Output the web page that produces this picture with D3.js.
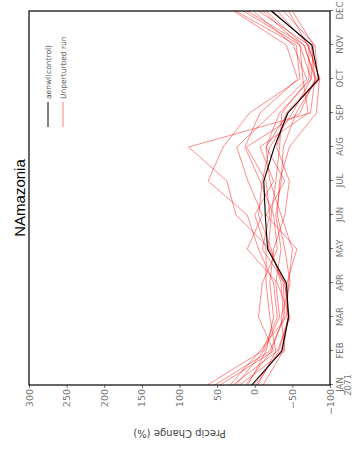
<!DOCTYPE html>
<html>
<head>
<meta charset="utf-8">
<script src="https://cdn.jsdelivr.net/npm/d3@7"></script>
<style>
  body { margin: 0; background: #fff; }
  svg { display: block; }
</style>
</head>
<body>
<script>
/*
** Data
*/
var months = ["JAN", "FEB", "MAR", "APR", "MAY", "JUN", "JUL", "AUG", "SEP", "OCT", "NOV", "DEC"]
  , valueTicks = [-100, -50, 0, 50, 100, 150, 200, 250, 300]
  , control = [4, -36, -45, -42, -17, -14, -12, -26, -44, -85, -76, -22]
  , run01 = [63, -10, -30, -25, -5, 10, 62, 42, 7, -60, -55, 25]
  , run02 = [53, -20, -40, -38, -20, 25, 37, 88, -74, -80, -66, 10]
  , run03 = [46, -25, -5, -10, -30, -25, -7, 13, -7, -57, -42, 28]
  , run04 = [33, -7, -42, -45, -50, -35, -20, -15, -33, -75, -60, -11]
  , run05 = [29, -30, -47, -30, 10, -10, 9, 24, -24, -69, -51, 2]
  , run06 = [20, -40, -35, -47, -40, -30, -33, -46, -82, -86, -71, -30]
  , run07 = [9, -15, -25, -20, -25, -40, -46, -29, -42, -84, -80, -38]
  , run08 = [2, -35, -45, -40, -10, -20, -15, 11, -60, -80, -75, -24]
  , run09 = [-4, -28, -20, -15, -15, 0, -25, -7, -71, -64, -60, 15]
  , run10 = [-11, -38, -44, -43, -56, -15, -40, -15, -44, -87, -70, -45]
  , run11 = [12, -22, -38, -35, -22, -5, -10, -20, -50, -75, -78, -50]
  , run12 = [25, -12, -33, -28, -35, -28, -35, -38, -55, -82, -65, -15]
  , run13 = [-2, -32, -45, -40, -18, -22, -28, -33, -36, -72, -72, -5]
  , runs = [run01, run02, run03, run04, run05, run06, run07, run08, run09, run10, run11, run12, run13]
;

/*
** Layout: the chart is drawn landscape, then turned a quarter to the left
*/
var W = 454
  , H = 358
  , margin = {top: 29, right: 11, bottom: 28, left: 69}
  , width = W - margin.left - margin.right
  , height = H - margin.top - margin.bottom
  , gray = "#777"
;

var svg = d3.select("body").append("svg")
    .attr("width", H)
    .attr("height", W)
;
var root = svg.append("g")
    .attr("transform", "translate(0," + W + ") rotate(-90)")
;
var plot = root.append("g")
    .attr("transform", "translate(" + margin.left + "," + margin.top + ")")
;

var x = d3.scalePoint().domain(months).range([0, width])
  , y = d3.scaleLinear().domain([-100, 300]).range([height, 0])
  , line = d3.line()
      .x(function(d, i) { return x(months[i]); })
      .y(function(d) { return y(d); })
;

// value axis
var yAxis = plot.append("g")
    .call(d3.axisLeft(y).tickValues(valueTicks).tickSize(3).tickPadding(1))
;
yAxis.select(".domain").remove();
yAxis.selectAll("line").attr("stroke", gray);
yAxis.selectAll("text")
    .attr("fill", gray)
    .style("font", "9.5px 'DejaVu Sans'")
    .text(function(d) { return d < 0 ? "\u2212" + Math.abs(d) : d; })
;

// month axis
var xAxis = plot.append("g")
    .attr("transform", "translate(0," + height + ")")
    .call(d3.axisBottom(x).tickSize(3).tickPadding(4))
;
xAxis.select(".domain").remove();
xAxis.selectAll("line").attr("stroke", gray);
xAxis.selectAll("text")
    .attr("fill", gray)
    .style("font", "8.5px 'DejaVu Sans'")
;
xAxis.append("text")
    .attr("x", x("JAN"))
    .attr("y", 21)
    .attr("text-anchor", "middle")
    .attr("fill", gray)
    .style("font", "8.5px 'DejaVu Sans'")
    .text("2071")
;

// perturbed runs
plot.append("g")
    .selectAll("path")
    .data(runs)
    .join("path")
    .attr("d", line)
    .attr("fill", "none")
    .attr("stroke", "#ff0000")
    .attr("stroke-opacity", 0.5)
    .attr("stroke-width", 0.9)
;

// control run
plot.append("path")
    .datum(control)
    .attr("d", line)
    .attr("fill", "none")
    .attr("stroke", "#000")
    .attr("stroke-width", 1.1)
;

// frame
plot.append("rect")
    .attr("width", width)
    .attr("height", height)
    .attr("fill", "none")
    .attr("stroke", "#000")
    .attr("stroke-width", 1.2)
;

// legend
var legend = plot.append("g")
    .attr("transform", "translate(" + (width - 116) + ",19)")
;
[["aenwl(control)", "#000", 1], ["Unperturbed run", "#ff0000", 0.5]].forEach(function(d, i) {
    legend.append("line")
        .attr("x1", 0).attr("x2", 25)
        .attr("y1", i * 15).attr("y2", i * 15)
        .attr("stroke", d[1])
        .attr("stroke-opacity", d[2])
        .attr("stroke-width", 1)
    ;
    legend.append("text")
        .attr("x", 28)
        .attr("y", i * 15)
        .attr("dy", "0.35em")
        .attr("fill", "#555")
        .style("font", "7.5px 'DejaVu Sans'")
        .text(d[0])
    ;
});

// titles
root.append("text")
    .attr("x", margin.left + width / 2)
    .attr("y", 25)
    .attr("text-anchor", "middle")
    .style("font", "15px 'Liberation Sans'")
    .text("NAmazonia")
;
root.append("text")
    .attr("transform", "translate(24," + (margin.top + height / 2) + ") rotate(-90)")
    .attr("text-anchor", "middle")
    .attr("fill", "#444")
    .style("font", "10px 'DejaVu Sans'")
    .text("Precip Change (%)")
;
</script>
</body>
</html>
